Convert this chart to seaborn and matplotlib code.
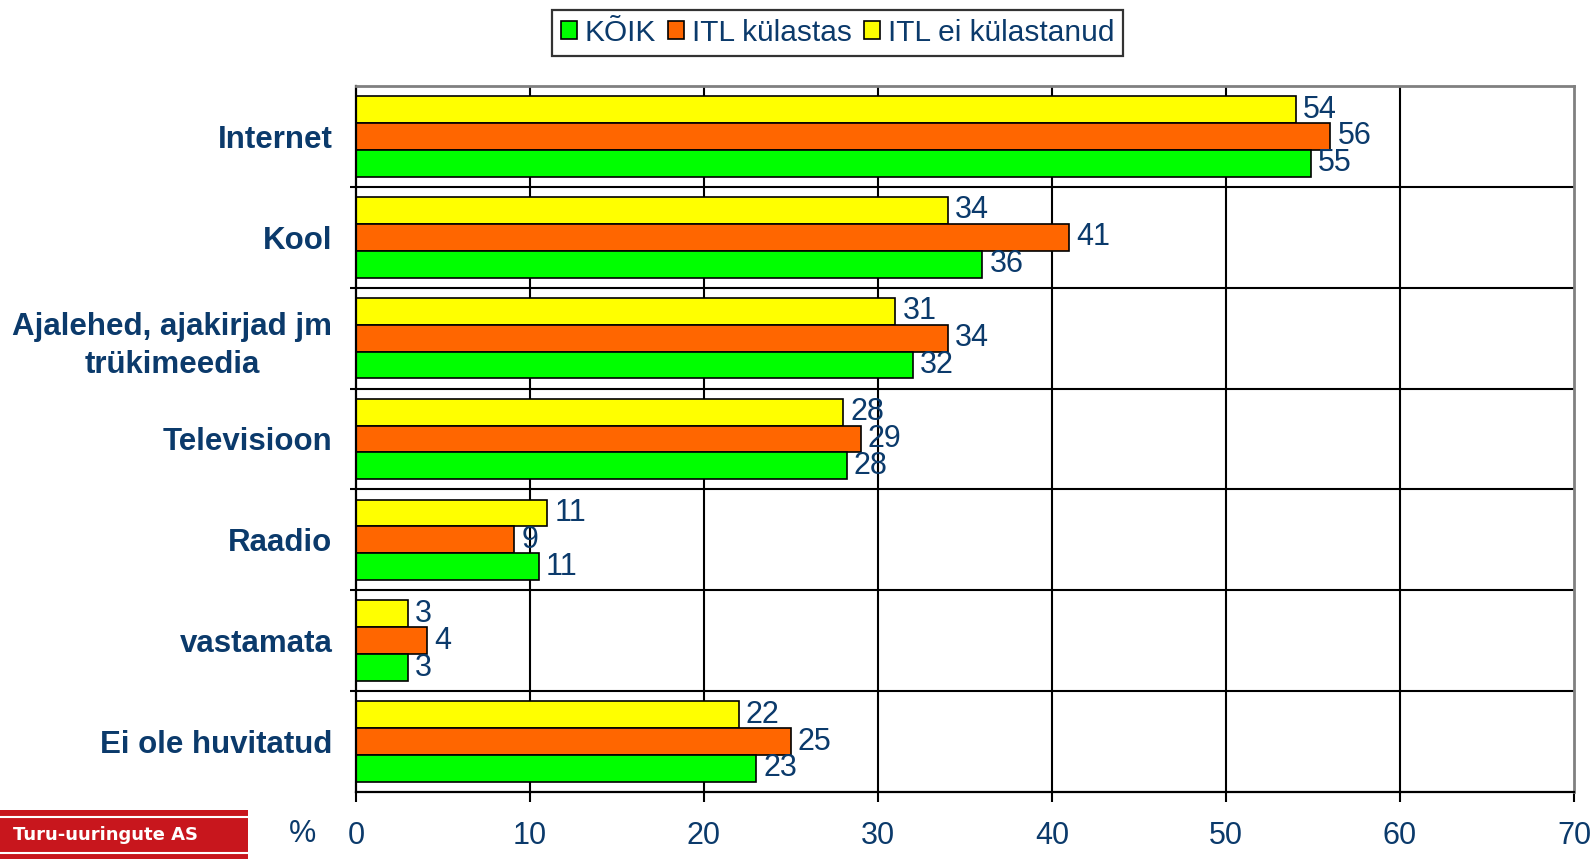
import matplotlib
matplotlib.use("Agg")
import matplotlib.pyplot as plt
import seaborn as sns
import pandas as pd
from matplotlib.patches import Patch, Rectangle

categories = ["Internet", "Kool", "Ajalehed, ajakirjad jm\ntrükimeedia", "Televisioon",
              "Raadio", "vastamata", "Ei ole huvitatud"]
series = ["KÕIK", "ITL külastas", "ITL ei külastanud"]
koik = [54.9, 36.0, 32.0, 28.2, 10.5, 3.0, 23.0]
itl_kulastas = [56.0, 41.0, 34.0, 29.0, 9.1, 4.1, 25.0]
itl_ei = [54.0, 34.0, 31.0, 28.0, 11.0, 3.0, 22.0]
koik_lbl = [55, 36, 32, 28, 11, 3, 23]
itl_kulastas_lbl = [56, 41, 34, 29, 9, 4, 25]
itl_ei_lbl = [54, 34, 31, 28, 11, 3, 22]
xticks = [0, 10, 20, 30, 40, 50, 60, 70]

colors = {"KÕIK": "#00FF00", "ITL külastas": "#FF6600", "ITL ei külastanud": "#FFFF00"}
navy = "#0B3A6B"

sns.set_theme(style="white")
plt.rcParams["font.family"] = ["Liberation Sans", "DejaVu Sans"]

rows = []
for s, vals, lbls in [("KÕIK", koik, koik_lbl), ("ITL külastas", itl_kulastas, itl_kulastas_lbl),
                      ("ITL ei külastanud", itl_ei, itl_ei_lbl)]:
    for c, v, l in zip(categories, vals, lbls):
        rows.append({"cat": c, "series": s, "value": v, "label": l})
df = pd.DataFrame(rows)

fig = plt.figure(figsize=(15.94, 8.59), dpi=100)
ax = fig.add_axes([0.2233, 0.0780, 0.7642, 0.8219])

hue_order = ["ITL ei külastanud", "ITL külastas", "KÕIK"]
sns.barplot(data=df, y="cat", x="value", hue="series", order=categories, hue_order=hue_order,
            palette=colors, orient="h", width=0.8, edgecolor="black", linewidth=1.2,
            saturation=1, legend=False, ax=ax)

for cont, s in zip(ax.containers, hue_order):
    lbls = [str(v) for v in df[df.series == s].set_index("cat").loc[categories, "label"]]
    ax.bar_label(cont, labels=lbls, padding=5, fontsize=22, color=navy)

ax.set_xlim(0, 70)
ax.set_ylim(6.5, -0.5)
ax.set_xticks(xticks)
ax.set_xticklabels([str(t) for t in xticks], fontsize=22, color=navy)
ax.set_xlabel("")
ax.set_ylabel("")

for x in xticks[1:-1]:
    ax.axvline(x, color="black", lw=1.5, zorder=0)
for y in [0.5, 1.5, 2.5, 3.5, 4.5, 5.5]:
    ax.axhline(y, color="black", lw=1.5, zorder=0)

ax.set_yticks(range(len(categories)))
ax.set_yticklabels(categories, fontsize=22.5, fontweight="bold", color=navy)
for lab in ax.get_yticklabels():
    lab.set_multialignment("center")
    lab.set_linespacing(1.35)
ax.set_yticks([0.5, 1.5, 2.5, 3.5, 4.5, 5.5], minor=True)
ax.tick_params(axis="y", which="major", length=0, pad=17)
ax.tick_params(axis="y", which="minor", length=4.5, width=1.5, color="black", direction="out", left=True)
ax.tick_params(axis="x", which="major", length=7, width=1.5, color="black", direction="out",
               bottom=True, pad=14)

for side in ["left", "bottom"]:
    ax.spines[side].set_color("black")
    ax.spines[side].set_linewidth(1.6)
for side in ["top", "right"]:
    ax.spines[side].set_color("#808080")
    ax.spines[side].set_linewidth(2)

fig.text(303 / 1594, 1 - 834 / 859, "%", fontsize=22, color=navy, ha="center", va="center")

handles = [Patch(facecolor=colors[s], edgecolor="black", linewidth=1.2) for s in series]
leg = fig.legend(handles, series, loc="center", bbox_to_anchor=(0.5254, 0.9616), ncol=3,
                 frameon=True, fancybox=False, edgecolor="black", fontsize=21.5,
                 handlelength=0.55, handleheight=0.55, handletextpad=0.25, columnspacing=0.4,
                 borderpad=0.3, labelcolor=navy)
leg.get_frame().set_linewidth(1.6)

# logo
fig.patches.append(Rectangle((0, 0), 248 / 1594, 49 / 859, transform=fig.transFigure,
                             facecolor="#C8161D", edgecolor="none"))
for yy in [42 / 859, 6 / 859]:
    fig.lines.append(plt.Line2D([0, 248 / 1594], [yy, yy], transform=fig.transFigure,
                                color="white", lw=1.5))
fig.text(106 / 1594, 24 / 859, "Turu-uuringute AS", fontsize=13, fontweight="bold",
         color="white", ha="center", va="center", family=["DejaVu Sans"])

fig.savefig("out.png", dpi=100)
